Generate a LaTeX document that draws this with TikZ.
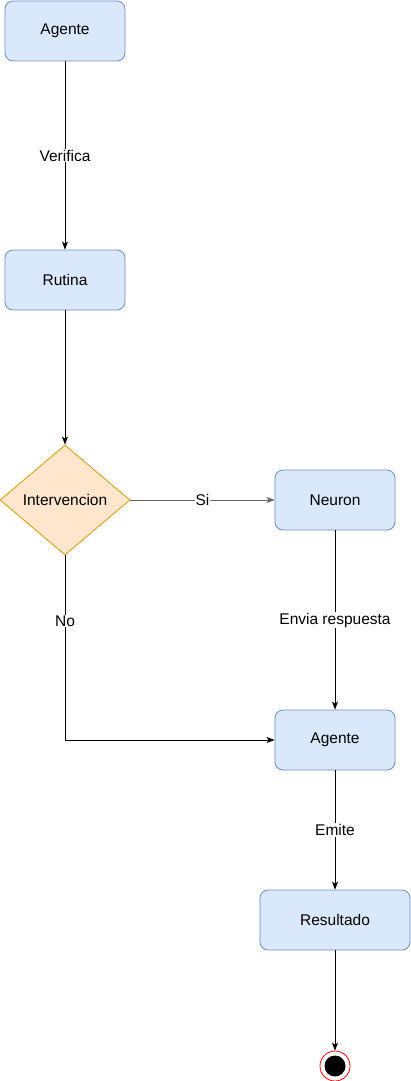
\documentclass[tikz,border=0pt]{standalone}
\usepackage{fontspec}
\setmainfont{Liberation Sans}
\usetikzlibrary{shapes.geometric,arrows.meta}
\definecolor{boxfill}{HTML}{DAE8FC}
\definecolor{boxline}{HTML}{6C8EBF}
\definecolor{dfill}{HTML}{FFE6CC}
\definecolor{dline}{HTML}{D79B00}
\definecolor{sigray}{HTML}{666666}
\tikzset{
  txt/.style={font=\fontsize{15.5}{18}\selectfont},
  box/.style={draw=boxline, fill=boxfill, rounded corners=8pt, minimum width=120pt, minimum height=60pt, line width=0.8pt, txt, inner sep=0pt},
  dec/.style={draw=dline, fill=dfill, diamond, aspect=1.18, minimum width=130pt, minimum height=110pt, inner sep=0pt, line width=0.8pt, txt},
  conn/.style={line width=0.8pt, -{Stealth[length=8pt,width=6pt,inset=2pt]}},
  lbl/.style={fill=white, inner sep=1pt, txt}
}
\begin{document}
\begin{tikzpicture}[x=1pt,y=-1pt]
\useasboundingbox (0,0) rectangle (411,1081);
\node[box] (ag1) at (65,31) {Agente};
\node[box] (rut) at (65,280) {Rutina};
\node[dec] (int) at (65,500) {Intervencion};
\node[box] (neu) at (335,500) {Neuron};
\node[box] (ag2) at (335,740) {Agente};
\node[box, minimum width=150pt] (res) at (335,920) {Resultado};
\node[circle, draw=red, line width=0.8pt, minimum size=30pt, inner sep=0pt] (fin) at (335,1066) {};
\node[circle, fill=black, minimum size=21pt, inner sep=0pt] (finin) at (fin.center) {};
\coordinate (corner) at (65,740);

\draw[conn] (ag1) -- node[lbl] {Verifica} (rut);
\draw[conn] (rut) -- (int);
\draw[conn, draw=sigray] (int) -- node[lbl, text=black] {Si} (neu);
\draw[conn] (neu) -- node[lbl] {Envia respuesta} (ag2);
\draw[conn] (int.south) -- (corner) -- (ag2.west);
\node[lbl] (nolbl) at (65,621) {No};
\draw[conn] (ag2) -- node[lbl] {Emite} (res);
\draw[conn] (res) -- (fin);
\end{tikzpicture}
\end{document}
